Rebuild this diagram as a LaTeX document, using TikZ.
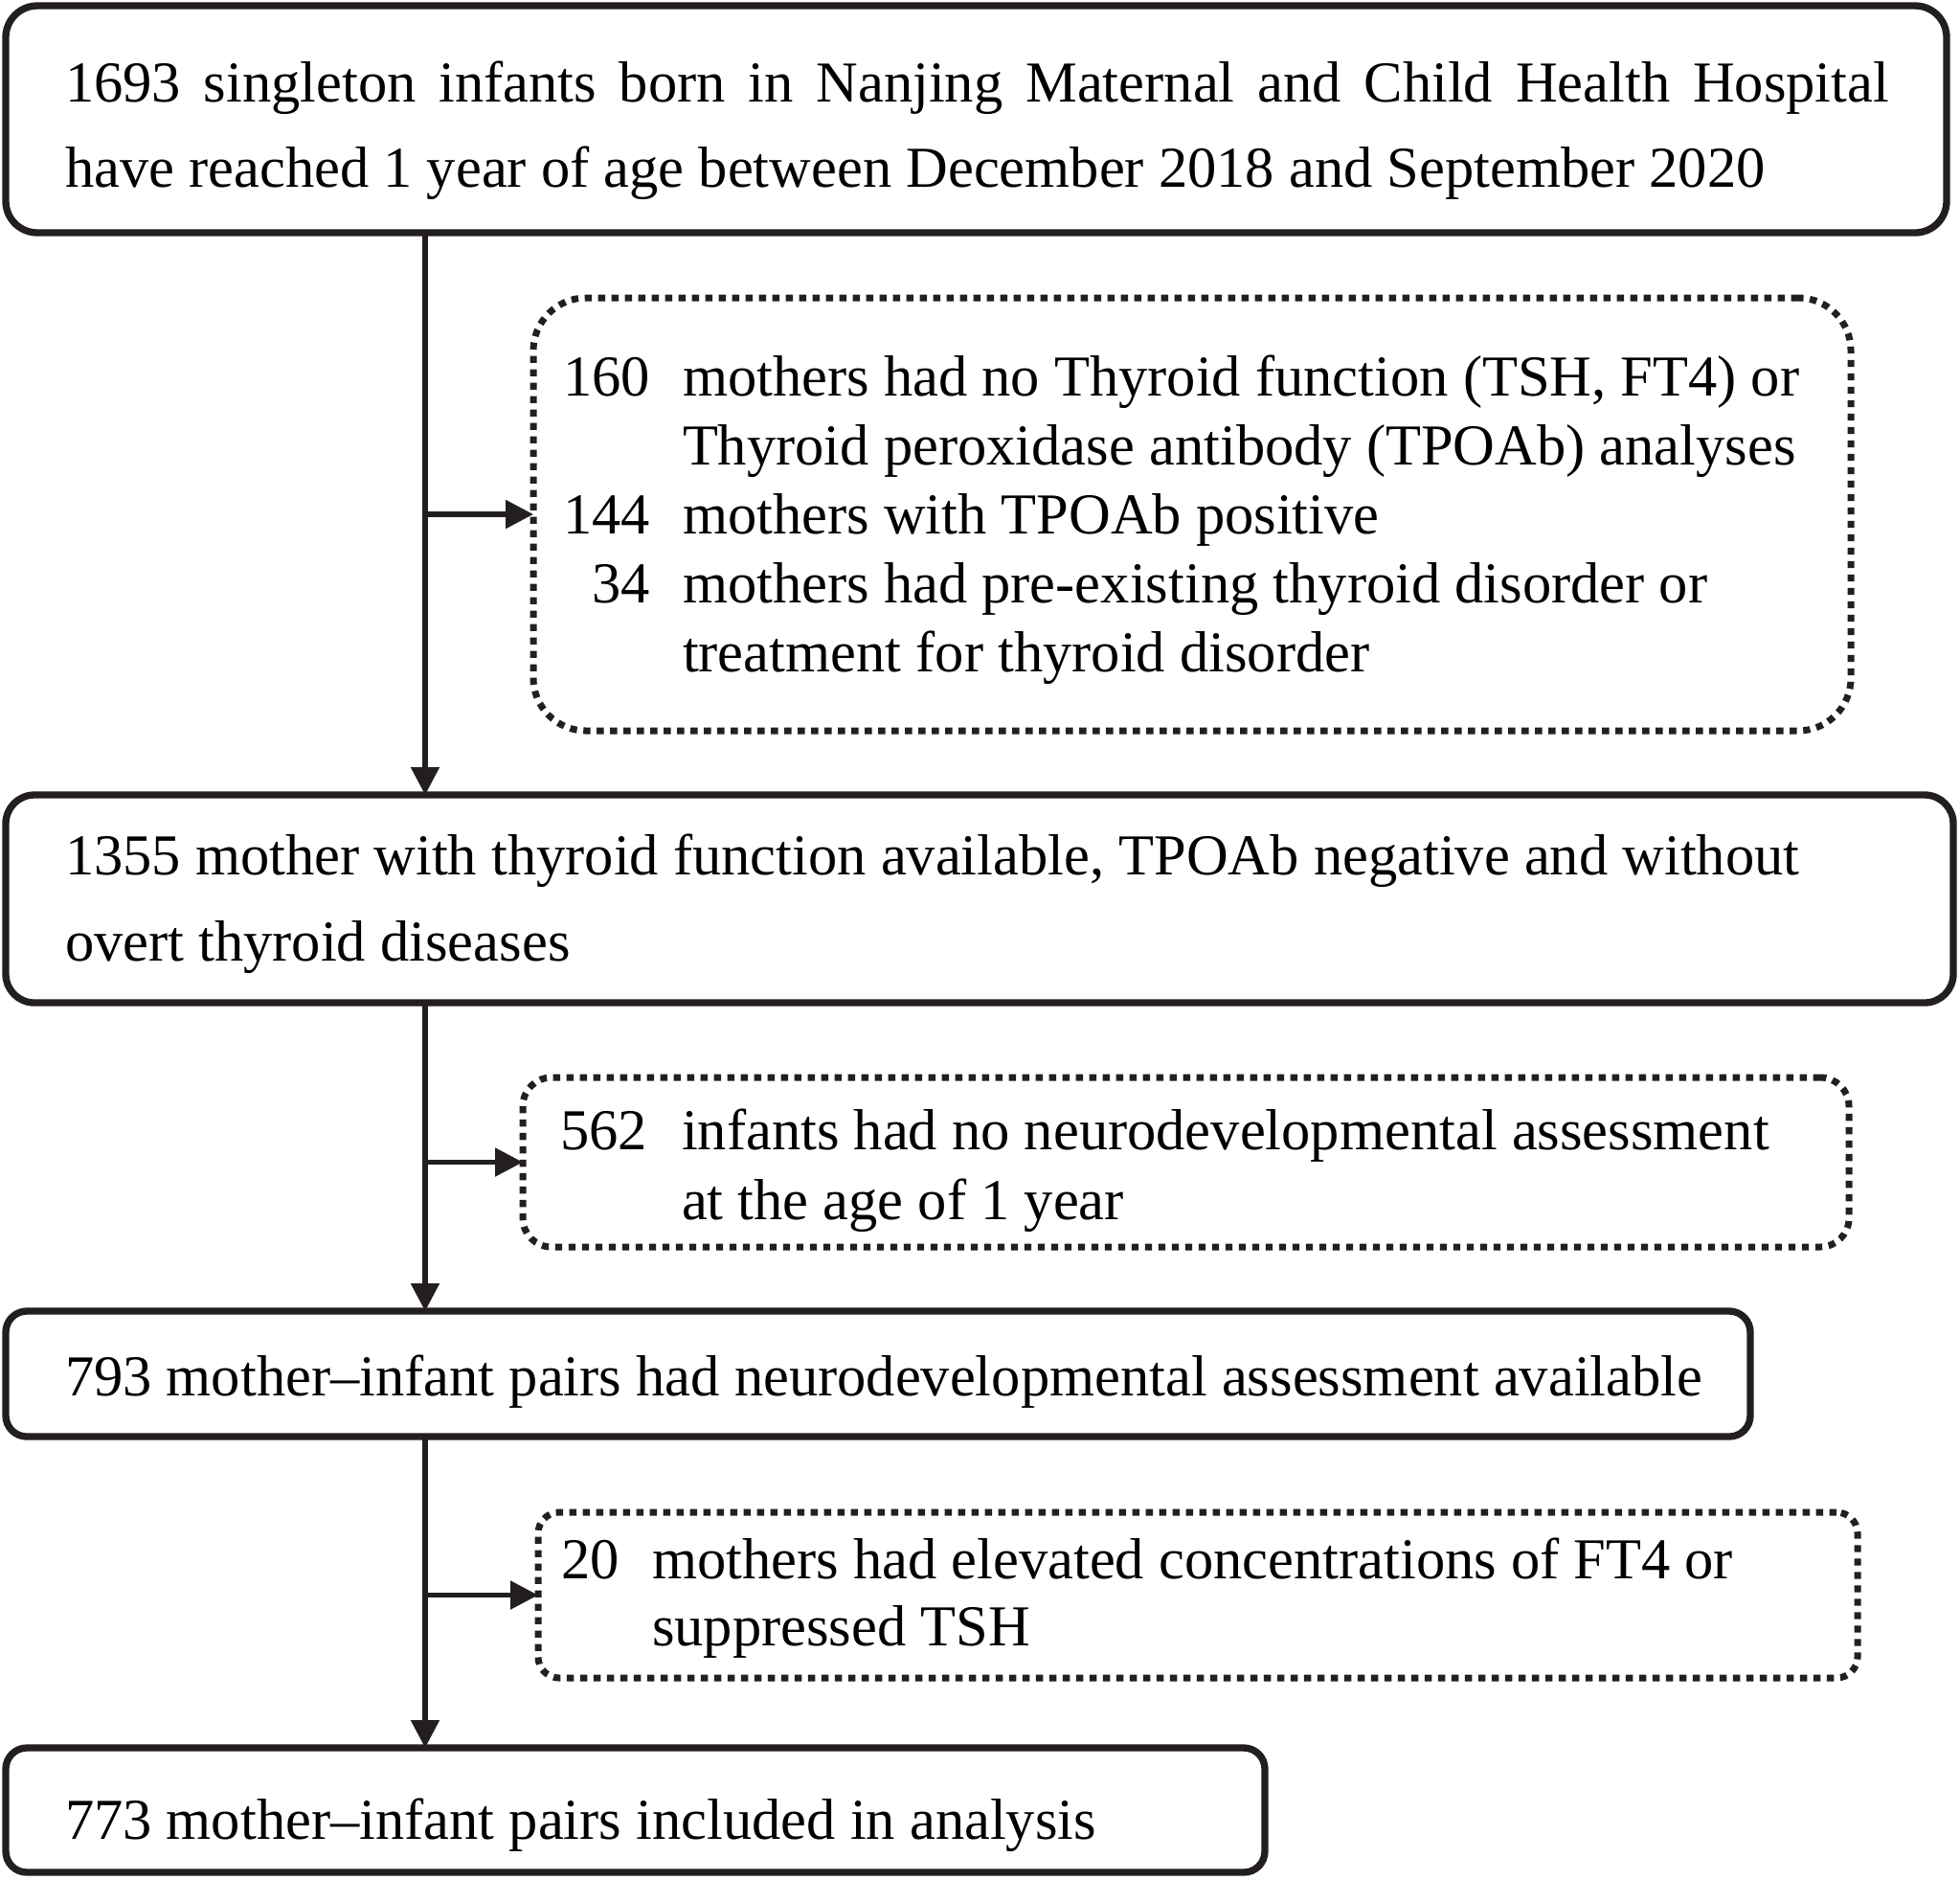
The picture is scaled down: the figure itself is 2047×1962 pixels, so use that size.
\documentclass[tikz,border=0pt]{standalone}
\usepackage{fontspec}
\setmainfont{Liberation Serif}
\usetikzlibrary{arrows.meta}
\definecolor{ink}{RGB}{35,31,32}
\begin{document}
\begin{tikzpicture}[x=0.3pt,y=-0.3pt,
  boxsize/.style 2 args={minimum width={#1*0.3pt}, minimum height={#2*0.3pt}},
  solidbox/.style={draw=ink, line width=2.2pt, inner sep=0pt, outer sep=0pt},
  dotbox/.style={draw=ink, line width=2.1pt, dash pattern=on 2.2pt off 2.0pt, inner sep=0pt, outer sep=0pt},
  conn/.style={draw=ink, line width=1.6pt, -{Triangle[length=8.7pt,width=8.7pt]}},
  txt/.style={inner sep=0pt, outer sep=0pt, text=black, font=\fontsize{18.15pt}{21pt}\selectfont},
  lt/.style={txt, anchor=base west},
  rt/.style={txt, anchor=base east}]
\useasboundingbox (0,0) rectangle (2047,1962);

% main boxes
\node[solidbox, rounded corners=9.9pt, boxsize={2027}{237}] (b1) at (1019.5,124.5) {};
\node[solidbox, rounded corners=9pt,   boxsize={2034}{217}] (b2) at (1023,938.5) {};
\node[solidbox, rounded corners=6.6pt, boxsize={1822}{131}] (b3) at (917,1434.5) {};
\node[solidbox, rounded corners=6.6pt, boxsize={1315}{130}] (b4) at (663.5,1890) {};

% exclusion boxes
\node[dotbox, rounded corners=16.5pt, boxsize={1376}{452}] (d1) at (1245,537) {};
\node[dotbox, rounded corners=9pt,    boxsize={1385}{177}] (d2) at (1238.5,1213.5) {};
\node[dotbox, rounded corners=6.6pt,  boxsize={1378}{173}] (d3) at (1251,1665.5) {};

% texts
\node[lt] (t1a) at (68,106) {\makebox[571.5pt][s]{1693 singleton infants born in Nanjing Maternal and Child Health Hospital}};
\node[lt] (t1b) at (68,195) {have reached 1 year of age between December 2018 and September 2020};

\node[lt] (t2a) at (68,913) {1355 mother with thyroid function available, TPOAb negative and without};
\node[lt] (t2b) at (68,1003) {overt thyroid diseases};

\node[rt] (n1a) at (679,413) {160};
\node[lt] (e1a) at (713,413) {mothers had no Thyroid function (TSH, FT4) or};
\node[lt] (e1b) at (713,485) {Thyroid peroxidase antibody (TPOAb) analyses};
\node[rt] (n1c) at (679,557) {144};
\node[lt] (e1c) at (713,557) {mothers with TPOAb positive};
\node[rt] (n1d) at (679,629) {34};
\node[lt] (e1d) at (713,629) {mothers had pre-existing thyroid disorder or};
\node[lt] (e1e) at (713,701) {treatment for thyroid disorder};

\node[rt] (n2a) at (676,1200) {562};
\node[lt] (e2a) at (712,1200) {infants had no neurodevelopmental assessment};
\node[lt] (e2b) at (712,1273) {at the age of 1 year};

\node[lt] (t3) at (68,1457) {793 mother–infant pairs had neurodevelopmental assessment available};

\node[rt] (n3a) at (647,1648) {20};
\node[lt] (e3a) at (681,1648) {mothers had elevated concentrations of FT4 or};
\node[lt] (e3b) at (681,1718) {suppressed TSH};

\node[lt] (t4) at (68,1920) {773 mother–infant pairs included in analysis};

% connectors
\coordinate (v) at (444,0);
\draw[conn] (b1.south -| v) -- (b2.north -| v);
\draw[conn] (b2.south -| v) -- (b3.north -| v);
\draw[conn] (b3.south -| v) -- (b4.north -| v);
\draw[conn] (d1.west -| v) -- (d1.west);
\draw[conn] (d2.west -| v) -- (d2.west);
\draw[conn] (d3.west -| v) -- (d3.west);
\end{tikzpicture}
\end{document}
